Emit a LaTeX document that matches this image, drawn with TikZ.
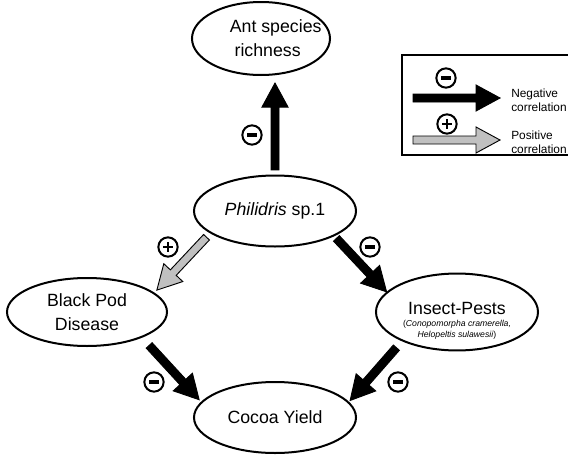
\documentclass[tikz,border=0pt]{standalone}
\usepackage{fontspec}
\setmainfont{Liberation Sans}
\usetikzlibrary{shapes.geometric,calc}
\definecolor{grisFlecha}{HTML}{C0C0C0}

\tikzset{
  caja/.style={ellipse,draw,line width=1.5pt,inner sep=0pt,align=center,
    font=\fontsize{13.3}{18}\selectfont},
  flecha/.style={draw=black,line width=0.7pt,line join=miter},
  signo/.style={circle,draw,line width=1.5pt,minimum size=14.5pt,inner sep=0pt},
  menos/.style={signo,path picture={\draw[line width=2.6pt]
      ([xshift=-3.6pt]path picture bounding box.center) -- ([xshift=3.6pt]path picture bounding box.center);}},
  mas/.style={signo,path picture={\draw[line width=2.2pt]
      ([xshift=-3.4pt]path picture bounding box.center) -- ([xshift=3.4pt]path picture bounding box.center)
      ([yshift=-3.4pt]path picture bounding box.center) -- ([yshift=3.4pt]path picture bounding box.center);}},
  leyenda/.style={anchor=west,align=left,inner sep=0pt,font=\fontsize{8.9}{10.7}\selectfont}
}

% flecha de bloque: relleno, desde, hasta, hueco inicial, hueco final
\newcommand\flechabloque[5]{%
  \coordinate (fb-s) at ($(#2)!#4!(#3)$);
  \coordinate (fb-t) at ($(#3)!#5!(#2)$);
  \coordinate (fb-b) at ($(fb-t)!18pt!(fb-s)$);
  \draw[flecha,fill=#1] ($(fb-s)!3pt!90:(fb-t)$) -- ($(fb-b)!3pt!90:(fb-t)$)
    -- ($(fb-b)!9.75pt!90:(fb-t)$) -- (fb-t) -- ($(fb-b)!9.75pt!-90:(fb-t)$)
    -- ($(fb-b)!3pt!-90:(fb-t)$) -- ($(fb-s)!3pt!-90:(fb-t)$) -- cycle;}

\begin{document}
\begin{tikzpicture}[x=0.75pt,y=-0.75pt]
  \useasboundingbox (0,0) rectangle (568,457);
  % elipses
  \node[caja,minimum width=103.5pt,minimum height=54.75pt] (ant) at (261,38.5)
    {\hspace*{11pt}Ant species\hspace*{-11pt}\\\hspace*{5pt}richness\hspace*{-5pt}};
  \node[caja,minimum width=121.5pt,minimum height=53.25pt] (phil) at (275,211) {\textit{Philidris} sp.1};
  \node[caja,minimum width=120pt,minimum height=51pt] (bpd) at (87,312) {Black Pod\\Disease};
  \node[caja,minimum width=121.5pt,minimum height=51pt] (insect) at (457,312)
    {\rule{0pt}{22pt}Insect-Pests\\[-8.8pt]\fontsize{6.5}{8.3}\selectfont(\textit{Conopomorpha cramerella,}\\[-9.75pt]
     \fontsize{6.5}{8.3}\selectfont\textit{Helopeltis sulawesii})};
  \node[caja,minimum width=121.5pt,minimum height=53.25pt] (cocoa) at (275,417.5) {Cocoa Yield};

  % flechas
  \flechabloque{black}{phil.north}{ant.south -| phil.north}{3.4pt}{5.3pt}
  \flechabloque{black}{phil.-23.2}{insect.164.2}{2.3pt}{0pt}
  \flechabloque{grisFlecha}{phil.199.4}{bpd.16.6}{4pt}{2.6pt}
  \flechabloque{black}{bpd.-25.9}{cocoa.168}{7.9pt}{2.1pt}
  \flechabloque{black}{insect.208.9}{cocoa.12.8}{6.4pt}{1.3pt}

  \node[menos] (s1) at (252,135) {};
  \node[mas] (s2) at (168,247) {};
  \node[menos] (s3) at (370,247) {};
  \node[menos] (s4) at (154,382) {};
  \node[menos] (s5) at (398,382) {};

  % leyenda
  \draw[line width=1.3pt] (402,55) rectangle (572,155);
  \coordinate (n1) at (413,98);
  \coordinate (n2) at (500,98);
  \coordinate (p1) at (413,140);
  \coordinate (p2) at (500,140);
  \flechabloque{black}{n1}{n2}{0pt}{0pt}
  \flechabloque{grisFlecha}{p1}{p2}{0pt}{0pt}
  \node[menos] (ln) at (446,78) {};
  \node[mas] (lp) at (447,124) {};
  \node[leyenda] (tn) at (511,100) {Negative\\correlation};
  \node[leyenda] (tp) at (511,142) {Positive\\correlation};
\end{tikzpicture}
\end{document}
